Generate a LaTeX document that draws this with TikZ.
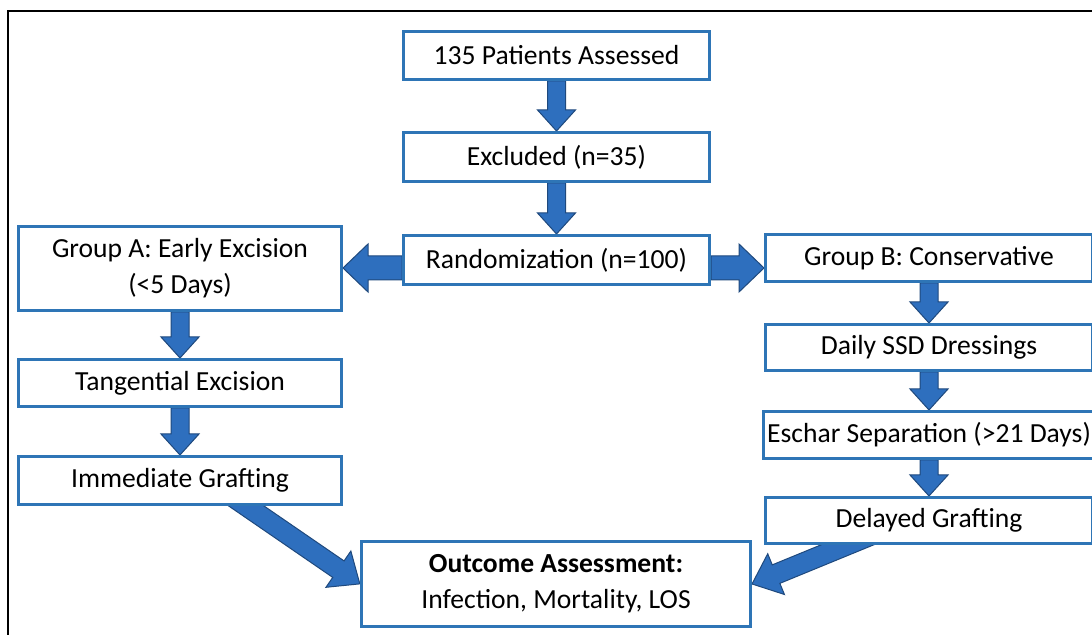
\documentclass[tikz,border=0pt]{standalone}
\usepackage{fontspec}
\setmainfont{Carlito}
\usetikzlibrary{positioning,calc,backgrounds}

\definecolor{boxblue}{RGB}{46,117,182}
\definecolor{arrowblue}{RGB}{46,111,190}
\definecolor{arrowedge}{RGB}{31,73,125}

\tikzset{
  stage/.style={draw=boxblue, line width=1.5pt, fill=white, align=center, inner sep=2pt,
    font=\fontsize{13.8}{18}\selectfont},
  blockarrow/.style={fill=arrowblue, draw=arrowedge, line width=0.5pt, line join=miter}
}

% block arrow: #1 from, #2 to, #3 half shaft, #4 half head, #5 head length
\newcommand{\blockarrow}[5]{%
  \path[blockarrow] let \p1=(#1), \p2=(#2), \n1={atan2(\y2-\y1,\x2-\x1)}, \n2={veclen(\x2-\x1,\y2-\y1)} in
    [shift={(\p1)}, rotate=\n1]
    (0pt,-#3) -- ({\n2-#5},-#3) -- ({\n2-#5},-#4) -- ({\n2-0pt},0pt) -- ({\n2-#5},#4) -- ({\n2-#5},#3) -- (0pt,#3) -- cycle;}

\begin{document}
\begin{tikzpicture}[x=0.5pt,y=-0.5pt]
  \useasboundingbox (0,0) rectangle (1092,635);
  \clip (0,0) rectangle (1092,635);
  \draw[line width=1pt] (8,11) rectangle (1110,650);

  % main column
  \node[stage, minimum width=153pt, minimum height=24pt] (pat) at (556.5,55.5) {135 Patients Assessed};
  \node[stage, minimum width=153pt, minimum height=24.5pt, below=25pt of pat] (excl) {Excluded (n=35)};
  \node[stage, minimum width=153pt, minimum height=24.5pt, below=25.5pt of excl] (rand) {Randomization (n=100)};

  % group A
  \node[stage, minimum width=161.5pt, minimum height=42pt] (ga) at (180,268.5) {Group A: Early Excision\\(<5 Days)};
  \node[stage, minimum width=161.5pt, minimum height=23.5pt, below=23pt of ga] (tang) {Tangential Excision};
  \node[stage, minimum width=161.5pt, minimum height=24pt, below=23.5pt of tang] (imm) {Immediate Grafting};

  % group B
  \node[stage, minimum width=163.5pt, minimum height=23.5pt] (gb) at (929,258) {Group B: Conservative};
  \node[stage, minimum width=163.5pt, minimum height=23pt, below=20pt of gb] (ssd) {Daily SSD Dressings};
  \node[stage, minimum width=163.5pt, minimum height=23.5pt, below=19pt of ssd] (esc) {Eschar Separation (>21 Days)};
  \node[stage, minimum width=163.5pt, minimum height=23pt, below=18pt of esc] (del) {Delayed Grafting};

  \node[stage, minimum width=194.5pt, minimum height=42.5pt] (out) at (556,584) {\textbf{Outcome Assessment:}\\Infection, Mortality, LOS};

  \coordinate (splitL) at ($(rand.west)+(0,8)$);
  \coordinate (splitR) at ($(rand.east)+(0,8)$);
  \coordinate (fromA) at ($(imm.south west)!0.65!(imm.south east)+(0,-12)$);
  \coordinate (fromB) at ($(del.south west)!0.34!(del.south east)+(0,-12)$);

  \begin{pgfonlayer}{background}
    \blockarrow{pat.south}{excl.north}{4.5pt}{9.5pt}{10.5pt}
    \blockarrow{excl.south}{rand.north}{4.5pt}{9.5pt}{10.5pt}
    \blockarrow{splitL}{ga.east |- splitL}{6pt}{12pt}{12.5pt}
    \blockarrow{splitR}{gb.west |- splitR}{6pt}{12pt}{12.5pt}
    \blockarrow{ga.south}{tang.north}{4.5pt}{9.5pt}{10.5pt}
    \blockarrow{tang.south}{imm.north}{4.5pt}{9.5pt}{10.5pt}
    \blockarrow{gb.south}{ssd.north}{4.5pt}{9.5pt}{10.5pt}
    \blockarrow{ssd.south}{esc.north}{4.5pt}{9.5pt}{10.5pt}
    \blockarrow{esc.south}{del.north}{4.5pt}{9.5pt}{10.5pt}
    \blockarrow{fromA}{out.west}{5pt}{11pt}{13pt}
    \blockarrow{fromB}{out.east}{5pt}{11pt}{13pt}
  \end{pgfonlayer}
\end{tikzpicture}
\end{document}
